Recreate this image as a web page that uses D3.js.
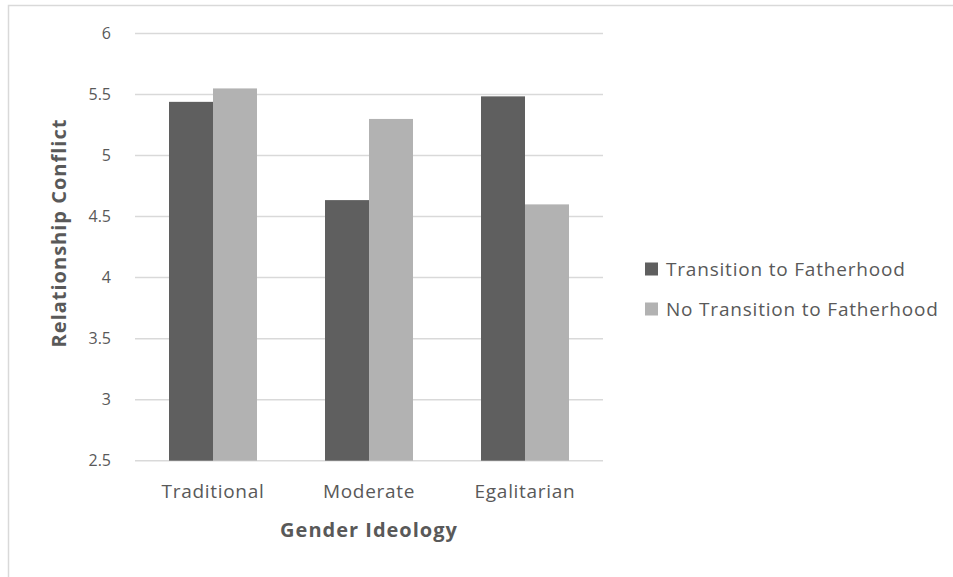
<!DOCTYPE html>
<html>
<head>
<meta charset="utf-8">
<script src="https://cdn.jsdelivr.net/npm/d3@7"></script>
<style>
  body { margin: 0; background: #fff; }
  text { font-family: "Open Sans", sans-serif; fill: #595959; }
</style>
</head>
<body>
<script>
const categories = ['Traditional', 'Moderate', 'Egalitarian'];
const seriesNames = ['Transition to Fatherhood', 'No Transition to Fatherhood'];
const transition = [5.44, 4.635, 5.485];
const noTransition = [5.55, 5.30, 4.60];
const yTicks = [2.5, 3, 3.5, 4, 4.5, 5, 5.5, 6];
const colors = ['#5f5f5f', '#b2b2b2'];

const width = 953, height = 577;
const plot = { left: 135, right: 603, top: 33.5, bottom: 460.7 };

const svg = d3.select('body').append('svg')
    .attr('width', width).attr('height', height);

// chart area border (cut off on right/bottom like the original)
svg.append('path')
    .attr('d', 'M8.5,' + height + 'V5.5H' + width)
    .attr('fill', 'none').attr('stroke', '#d9d9d9').attr('stroke-width', 1.5);

let x0 = d3.scaleBand().domain(categories)
    .range([plot.left, plot.right]).paddingInner(0.436).paddingOuter(0.218);
let x1 = d3.scaleBand().domain([0, 1]).range([0, x0.bandwidth()]);
let y = d3.scaleLinear().domain([2.5, 6]).range([plot.bottom, plot.top]);

// gridlines
svg.append('g').selectAll('line')
    .data(yTicks)
    .enter().append('line')
      .attr('x1', plot.left).attr('x2', plot.right)
      .attr('y1', d => y(d)).attr('y2', d => y(d))
      .attr('stroke', '#d9d9d9').attr('stroke-width', 1.5);

// y tick labels
let yAxis = svg.append('g')
    .attr('transform', 'translate(' + plot.left + ',0)')
    .call(d3.axisLeft(y).tickValues(yTicks).tickSize(0).tickPadding(24)
      .tickFormat(d3.format('')));
yAxis.select('.domain').remove();
yAxis.selectAll('text').style('font-size', '16px').attr('fill', '#595959')
    .style('font-family', '"Open Sans", sans-serif');

// x labels
let xAxis = svg.append('g')
    .attr('transform', 'translate(0,' + plot.bottom + ')')
    .call(d3.axisBottom(x0).tickSize(0).tickPadding(24));
xAxis.select('.domain').remove();
xAxis.selectAll('text').style('font-size', '19px').attr('fill', '#595959')
    .style('letter-spacing', '0.7px')
    .style('font-family', '"Open Sans", sans-serif');

// bars
const rows = categories.map((c, i) => ({ cat: c, vals: [transition[i], noTransition[i]] }));
let groups = svg.append('g').selectAll('g')
    .data(rows)
    .enter().append('g')
      .attr('transform', d => 'translate(' + x0(d.cat) + ',0)');

groups.selectAll('rect')
    .data(d => d.vals.map((v, k) => ({ k: k, v: v })))
    .enter().append('rect')
      .attr('x', d => x1(d.k))
      .attr('y', d => y(d.v))
      .attr('width', x1.bandwidth())
      .attr('height', d => y(2.5) - y(d.v))
      .attr('fill', d => colors[d.k]);

// axis titles
svg.append('text')
    .attr('x', (plot.left + plot.right) / 2).attr('y', 537)
    .attr('text-anchor', 'middle')
    .style('font-size', '20px').style('font-weight', 'bold')
    .style('letter-spacing', '1px')
    .text('Gender Ideology');

svg.append('text')
    .attr('transform', 'translate(66,233) rotate(-90)')
    .attr('text-anchor', 'middle')
    .style('font-size', '20px').style('font-weight', 'bold')
    .style('letter-spacing', '1px')
    .text('Relationship Conflict');

// legend
let legend = svg.append('g').selectAll('g')
    .data(seriesNames)
    .enter().append('g')
      .attr('transform', (d, i) => 'translate(645,' + (269 + i * 40) + ')');

legend.append('rect')
    .attr('x', 0).attr('y', -6.5).attr('width', 13).attr('height', 13)
    .attr('fill', (d, i) => colors[i]);

legend.append('text')
    .attr('x', 21).attr('y', 0).attr('dy', '0.35em')
    .style('font-size', '19px')
    .style('letter-spacing', '0.8px')
    .text(d => d);
</script>
</body>
</html>
